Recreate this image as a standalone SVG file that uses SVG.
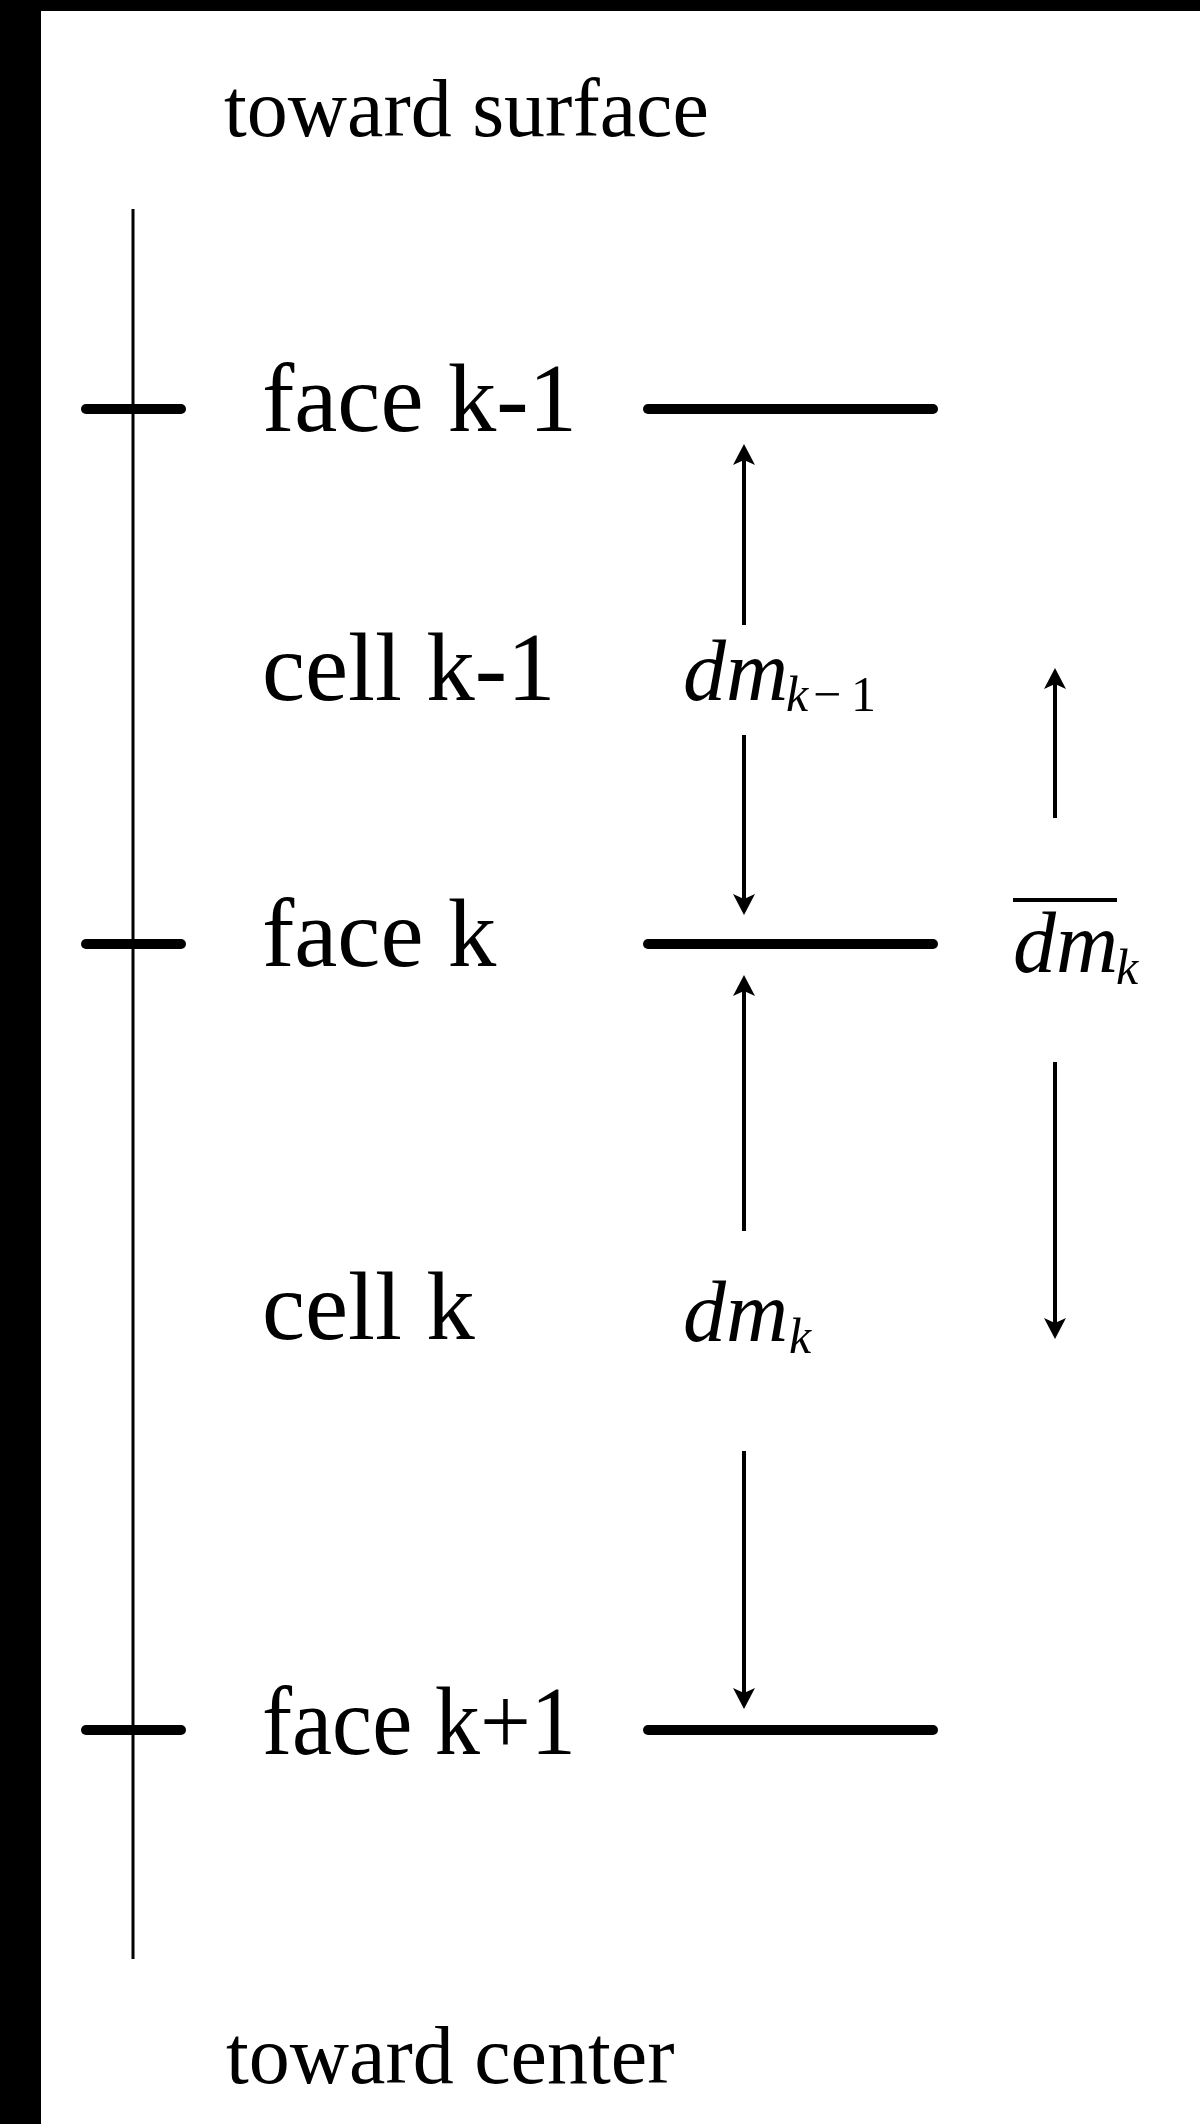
<svg xmlns="http://www.w3.org/2000/svg" width="1200" height="2124" viewBox="0 0 1200 2124">
  <style>
    .lbl { font-family: "Liberation Serif", "Times New Roman", serif; font-size: 97px; fill: #000; }
    .dir { font-family: "Liberation Serif", "Times New Roman", serif; font-size: 82px; fill: #000; }
    .math { font-family: "Liberation Serif", "Times New Roman", serif; font-style: italic; font-size: 86px; fill: #000; }
    .sub { font-family: "Liberation Serif", "Times New Roman", serif; font-size: 50px; fill: #000; }
    .face { stroke: #000; stroke-width: 10; stroke-linecap: round; fill: none; }
    .axis { stroke: #000; stroke-width: 3; fill: none; }
    .shaft { stroke: #000; stroke-width: 4; fill: none; }
    .head { fill: #000; stroke: none; }
  </style>
  <rect x="0" y="0" width="1200" height="2124" fill="#ffffff"/>
  <rect x="0" y="0" width="1200" height="11" fill="#000"/>
  <rect x="0" y="0" width="41" height="2124" fill="#000"/>

  <g id="axis">
    <line class="axis" x1="133" y1="209" x2="133" y2="1959"/>
    <text class="dir" x="224" y="136">toward surface</text>
    <text class="dir" x="226" y="2083">toward center</text>
  </g>

  <g id="face-k-1">
    <line class="face" x1="86" y1="409" x2="181" y2="409"/>
    <text class="lbl" x="262" y="431">face k-1</text>
    <line class="face" x1="648" y1="409" x2="933" y2="409"/>
  </g>

  <g id="cell-k-1">
    <text class="lbl" x="262" y="700">cell k-1</text>
    <text class="math" x="683" y="700">dm</text>
    <text class="sub" y="711"><tspan font-style="italic" x="786">k</tspan><tspan x="813">−</tspan><tspan x="851">1</tspan></text>
  </g>

  <g id="face-k">
    <line class="face" x1="86" y1="944" x2="181" y2="944"/>
    <text class="lbl" x="262" y="966">face k</text>
    <line class="face" x1="648" y1="944" x2="933" y2="944"/>
  </g>

  <g id="dm-bar">
    <line x1="1013" y1="900" x2="1117" y2="900" stroke="#000" stroke-width="4"/>
    <text class="math" x="1013" y="972">dm</text>
    <text class="sub" font-style="italic" x="1116" y="984">k</text>
  </g>

  <g id="cell-k">
    <text class="lbl" x="262" y="1339">cell k</text>
    <text class="math" x="683" y="1341">dm</text>
    <text class="sub" font-style="italic" x="789" y="1353">k</text>
  </g>

  <g id="face-k1">
    <line class="face" x1="86" y1="1730" x2="181" y2="1730"/>
    <text class="lbl" x="262" y="1754" textLength="314" lengthAdjust="spacingAndGlyphs">face k+1</text>
    <line class="face" x1="648" y1="1730" x2="933" y2="1730"/>
  </g>

  <g id="connectors">
    <line class="shaft" x1="744" y1="625" x2="744" y2="460"/>
    <polygon class="head" points="744,444 733,465 744,460 755,465"/>
    <line class="shaft" x1="744" y1="735" x2="744" y2="899"/>
    <polygon class="head" points="744,915 733,894 744,899 755,894"/>
    <line class="shaft" x1="744" y1="1231" x2="744" y2="991"/>
    <polygon class="head" points="744,975 733,996 744,991 755,996"/>
    <line class="shaft" x1="744" y1="1451" x2="744" y2="1693"/>
    <polygon class="head" points="744,1709 733,1688 744,1693 755,1688"/>
    <line class="shaft" x1="1055" y1="818" x2="1055" y2="684"/>
    <polygon class="head" points="1055,668 1044,689 1055,684 1066,689"/>
    <line class="shaft" x1="1055" y1="1062" x2="1055" y2="1323"/>
    <polygon class="head" points="1055,1339 1044,1318 1055,1323 1066,1318"/>
  </g>
</svg>
